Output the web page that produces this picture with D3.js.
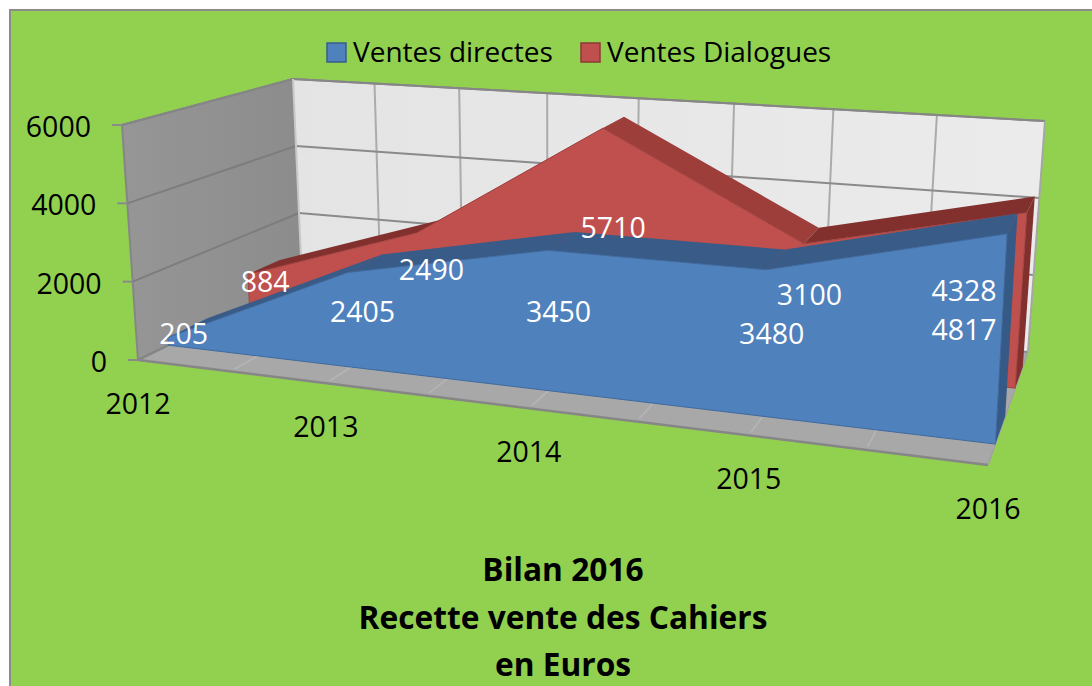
<!DOCTYPE html>
<html>
<head>
<meta charset="utf-8">
<script src="https://cdnjs.cloudflare.com/ajax/libs/d3/7.8.5/d3.min.js"></script>
<style>
html, body { margin: 0; padding: 0; background: #fff; }
svg { display: block; }
text { font-family: "Open Sans", sans-serif; }
</style>
</head>
<body>
<div id="chart"></div>
<script>
const years = ["2012", "2013", "2014", "2015", "2016"];
const ventesDirectes = [205, 2405, 3450, 3480, 4817];
const ventesDialogues = [884, 2490, 5710, 3100, 4328];
const valueTicks = [0, 2000, 4000, 6000];
const titleLines = ["Bilan 2016", "Recette vente des Cahiers", "en Euros"];

const width = 1092, height = 686;

// corners of the 3d box as they land on the picture, floor then top
// f = front, b = back, l = left, r = right
const floor = { fl: [138, 360], fr: [988, 465], bl: [302, 280], br: [1028, 352] };
const top3d = { fl: [122, 125], fr: [1002, 196], bl: [293, 79], br: [1045, 121] };

const lerp = (a, b, t) => [a[0] + (b[0] - a[0]) * t, a[1] + (b[1] - a[1]) * t];

// u along the years, w up the values, v into the depth (all 0..1)
function project(u, w, v) {
    const bottom = lerp(lerp(floor.fl, floor.fr, u), lerp(floor.bl, floor.br, u), v);
    const upper = lerp(lerp(top3d.fl, top3d.fr, u), lerp(top3d.bl, top3d.br, u), v);
    return lerp(bottom, upper, w);
}

// perspective: the far left of the box is squeezed
const yearPos = d3.scaleLinear().domain([0, years.length - 1]).range([0, 1]);
const xScale = i => {
    const t = yearPos(i);
    return t / (t + (1 - t) * 1.175);
};
const yScale = d3.scaleLinear().domain([0, 6000]).range([0, 1]);

const path = d3.line().curve(d3.curveLinearClosed);

const svg = d3.select("#chart").append("svg")
    .attr("width", width)
    .attr("height", height);

const defs = svg.append("defs");
const backGrad = defs.append("linearGradient").attr("id", "backGrad");
backGrad.append("stop").attr("offset", "0%").attr("stop-color", "#e4e4e4");
backGrad.append("stop").attr("offset", "100%").attr("stop-color", "#ebebeb");
const sideGrad = defs.append("linearGradient").attr("id", "sideGrad");
sideGrad.append("stop").attr("offset", "0%").attr("stop-color", "#969696");
sideGrad.append("stop").attr("offset", "100%").attr("stop-color", "#8c8c8c");

// chart background
svg.append("rect")
    .attr("x", 10).attr("y", 10)
    .attr("width", width).attr("height", height)
    .attr("fill", "#92d050")
    .attr("stroke", "#8c8c8c")
    .attr("stroke-width", 2);

// walls and floor
const walls = svg.append("g");
walls.append("path")
    .attr("d", path([project(0, 0, 1), project(1, 0, 1), project(1, 1, 1), project(0, 1, 1)]))
    .attr("fill", "url(#backGrad)");
walls.append("path")
    .attr("d", path([project(0, 0, 0), project(0, 0, 1), project(0, 1, 1), project(0, 1, 0)]))
    .attr("fill", "url(#sideGrad)");
walls.append("path")
    .attr("d", path([project(0, 0, 0), project(1, 0, 0), project(1, 0, 1), project(0, 0, 1)]))
    .attr("fill", "#a8a8a8");

function segment(a, b, color, w) {
    walls.append("line")
        .attr("x1", a[0]).attr("y1", a[1])
        .attr("x2", b[0]).attr("y2", b[1])
        .attr("stroke", color)
        .attr("stroke-width", w);
}

// vertical grid on the back wall + light marks on the floor, two per year
d3.range(0, years.length - 0.5, 0.5).forEach(i => {
    const u = xScale(i);
    if (i > 0 && i < years.length - 1) {
        segment(project(u, 0, 1), project(u, 1, 1), "#ababab", 2);
    }
    segment(project(u, 0, 0.03), project(u, 0, 1), "#b6b6b6", 1.5);
});

// horizontal grid + value labels
valueTicks.forEach(d => {
    const w = yScale(d);
    segment(project(0, w, 0), project(0, w, 1), "#7d7d7d", 2);
    segment(project(0, w, 1), project(1, w, 1), "#8a8a8a", 2);
    const p = project(0, w, 0);
    segment([p[0] - 10, p[1]], p, "#8a8a8a", 2);
    svg.append("text")
        .attr("x", p[0] - 31)
        .attr("y", p[1] + 2)
        .attr("dy", "0.35em")
        .attr("text-anchor", "end")
        .attr("font-size", 28.5)
        .attr("fill", "#000")
        .text(d);
});

// box outline
segment(project(0, 0, 0), project(1, 0, 0), "#868686", 2.5);
segment(project(1, 0, 0), project(1, 0, 1), "#a0a0a0", 1.5);
segment(project(0, 0, 0), project(0, 1, 0), "#868686", 2);
segment(project(0, 1, 0), project(0, 1, 1), "#868686", 2);
segment(project(0, 1, 1), project(1, 1, 1), "#868686", 2);
segment(project(1, 1, 1), project(1, 0, 1), "#a6a6a6", 2);
segment(project(0, 1, 1), project(0, 0, 1), "#c8c8c8", 2);
segment(project(0, 0, 0), project(0, 0, 1), "#868686", 1.5);

// one slab per series, painted from the back to the front
function drawSlab(values, opt) {
    const g = svg.append("g");
    const pts = values.map((d, i) => ({ u: xScale(i), w: yScale(d) }));

    // top faces: falling parts catch more light
    d3.pairs(pts).forEach(([a, b]) => {
        g.append("path")
            .attr("d", path([
                project(a.u, a.w, opt.front), project(b.u, b.w, opt.front),
                project(b.u, b.w, opt.back), project(a.u, a.w, opt.back)
            ]))
            .attr("fill", b.w < a.w ? opt.falling : opt.rising);
    });

    // right end
    const last = pts[pts.length - 1];
    g.append("path")
        .attr("d", path([
            project(1, 0, opt.front), project(1, 0, opt.back),
            project(1, last.w, opt.back), project(1, last.w, opt.front)
        ]))
        .attr("fill", opt.side);

    // front face
    const face = pts.map(p => project(p.u, p.w, opt.front));
    face.push(project(1, 0, opt.front), project(0, 0, opt.front));
    g.append("path")
        .attr("d", path(face))
        .attr("fill", opt.color)
        .attr("stroke", opt.edge)
        .attr("stroke-width", 1);
}

const redSlab = { front: 0.68, back: 0.87, color: "#bf504d", edge: "#a04341", falling: "#9d3e3b", rising: "#82302e", side: "#82302e" };
const blueSlab = { front: 0.185, back: 0.43, color: "#4f81bd", edge: "#3f6a9e", falling: "#375a85", rising: "#385b87", side: "#365a86" };
drawSlab(ventesDialogues, redSlab);
drawSlab(ventesDirectes, blueSlab);

// data labels, in the middle of each area and kept inside the last column
function drawLabels(values, depth) {
    values.forEach((d, i) => {
        const p = project(xScale(i), yScale(d) / 2, depth);
        svg.append("text")
            .attr("x", Math.min(p[0], 964))
            .attr("y", p[1])
            .attr("dy", "0.35em")
            .attr("text-anchor", "middle")
            .attr("font-size", 28.5)
            .attr("fill", "#fff")
            .text(d);
    });
}
drawLabels(ventesDialogues, 0.78);
drawLabels(ventesDirectes, 0.28);

// year labels under the floor
years.forEach((d, i) => {
    const p = project(xScale(i), 0, 0);
    svg.append("text")
        .attr("x", p[0])
        .attr("y", p[1] + 44)
        .attr("dy", "0.35em")
        .attr("text-anchor", "middle")
        .attr("font-size", 28.5)
        .attr("fill", "#000")
        .text(d);
});

// legend
const legend = [
    { name: "Ventes directes", color: "#4f81bd", edge: "#385d8a", x: 327 },
    { name: "Ventes Dialogues", color: "#c0504d", edge: "#8c3836", x: 581 }
];
legend.forEach(d => {
    svg.append("rect")
        .attr("x", d.x).attr("y", 43)
        .attr("width", 19).attr("height", 19)
        .attr("fill", d.color)
        .attr("stroke", d.edge)
        .attr("stroke-width", 1.5);
    svg.append("text")
        .attr("x", d.x + 26)
        .attr("y", 62)
        .attr("font-size", 28)
        .attr("fill", "#000")
        .text(d.name);
});

// title
titleLines.forEach((d, i) => {
    svg.append("text")
        .attr("x", 563)
        .attr("y", 581 + i * 47.5)
        .attr("text-anchor", "middle")
        .attr("font-size", 31.7)
        .attr("font-weight", "bold")
        .attr("fill", "#000")
        .text(d);
});
</script>
</body>
</html>
